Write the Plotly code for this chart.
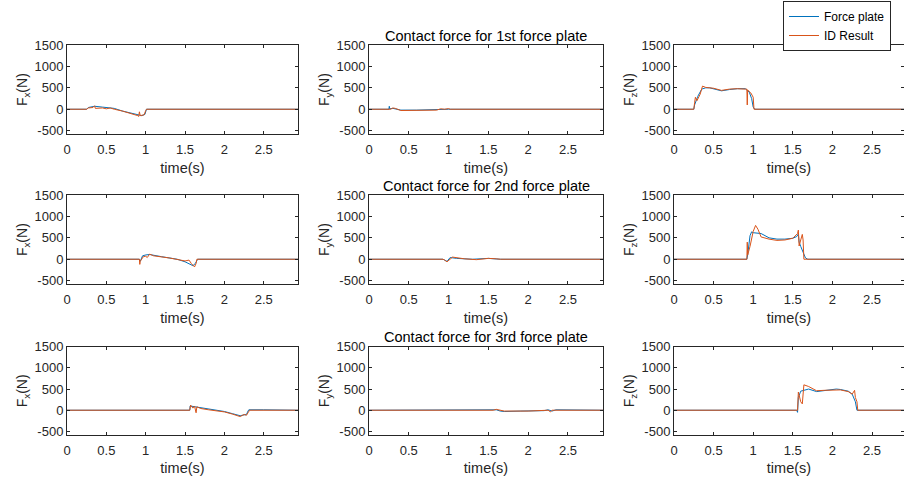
import plotly.graph_objects as go

# ---------------- data ----------------
# Plate 1
t_fp1_fx = [0, 0.25, 0.27, 0.35, 0.45, 0.6, 0.7, 0.8, 0.9, 0.95, 0.99, 1.0, 1.01, 2.94]
fp1_fx   = [0, 0, 40, 70, 50, 20, -40, -90, -140, -150, -120, -30, 0, 0]
t_id1_fx = [0, 0.25, 0.27, 0.33, 0.35, 0.36, 0.45, 0.5, 0.55, 0.6, 0.7, 0.8, 0.9, 0.91, 0.92, 0.93, 0.98, 1.0, 1.01, 2.94]
id1_fx   = [0, 0, 30, 40, 80, 20, 30, 10, 30, 0, -40, -90, -150, -170, -60, -150, -130, -30, 0, 0]

t_fp1_fy = [0, 0.25, 0.255, 0.26, 0.3, 0.35, 0.4, 0.6, 0.9, 0.95, 1.0, 2.94]
fp1_fy   = [0, 0, 70, 10, 20, 0, -20, -20, -15, 0, 0, 0]
t_id1_fy = [0, 0.27, 0.3, 0.33, 0.4, 0.6, 0.85, 0.9, 0.95, 1.0, 1.02, 2.94]
id1_fy   = [0, 0, 30, 20, -30, -25, -20, 10, 0, 15, 0, 0]

t_fp1_fz = [0, 0.25, 0.26, 0.30, 0.35, 0.4, 0.45, 0.5, 0.6, 0.7, 0.8, 0.9, 0.95, 0.98, 1.0, 1.02, 2.94]
fp1_fz   = [0, 0, 100, 300, 470, 500, 500, 480, 430, 460, 480, 480, 400, 250, 50, 0, 0]
t_id1_fz = [0, 0.25, 0.26, 0.27, 0.29, 0.33, 0.36, 0.4, 0.5, 0.6, 0.7, 0.8, 0.9, 0.92, 0.925, 0.93, 0.97, 1.0, 1.01, 2.94]
id1_fz   = [0, 0, 150, 280, 200, 350, 540, 510, 490, 440, 470, 480, 470, 470, 100, 450, 380, 280, 0, 0]

# Plate 2
t_fp2_fx = [0, 0.92, 0.93, 0.96, 1.0, 1.05, 1.2, 1.4, 1.5, 1.6, 1.63, 1.66, 2.94]
fp2_fx   = [0, 0, -50, 80, 100, 110, 60, 0, -60, -150, -100, 0, 0]
t_id2_fx = [0, 0.92, 0.925, 0.93, 0.97, 1.0, 1.02, 1.05, 1.1, 1.3, 1.5, 1.55, 1.58, 1.62, 1.64, 1.65, 2.94]
id2_fx   = [0, 0, -120, -50, 60, 70, 40, 120, 80, 30, -40, -20, -100, -180, -100, 0, 0]

t_fp2_fy = [0, 0.93, 0.98, 1.02, 1.1, 1.3, 1.5, 1.65, 2.94]
fp2_fy   = [0, 0, -50, 40, 20, 0, 20, 0, 0]
t_id2_fy = [0, 0.93, 0.95, 0.98, 1.05, 1.2, 1.35, 1.5, 1.6, 1.65, 2.94]
id2_fy   = [0, 0, -20, -60, 50, 10, -10, 20, 10, 0, 0]

t_fp2_fz = [0, 0.92, 0.93, 0.96, 0.98, 1.0, 1.1, 1.2, 1.3, 1.4, 1.5, 1.55, 1.57, 1.58, 1.6, 1.63, 1.66, 1.69, 2.94]
fp2_fz   = [0, 0, 100, 550, 640, 620, 600, 500, 470, 470, 490, 530, 590, 400, 300, 150, 30, 0, 0]
t_id2_fz = [0, 0.92, 0.925, 0.93, 0.96, 1.0, 1.03, 1.06, 1.1, 1.2, 1.3, 1.4, 1.5, 1.56, 1.57, 1.58, 1.6, 1.62, 1.63, 1.64, 2.94]
id2_fz   = [0, 0, 400, 100, 300, 650, 790, 700, 520, 470, 440, 450, 490, 600, 680, 310, 450, 580, 450, 0, 0]

# Plate 3
t_fp3_fx = [0, 1.56, 1.565, 1.6, 1.7, 1.8, 1.9, 2.0, 2.1, 2.2, 2.25, 2.28, 2.3, 2.31, 2.5, 2.94]
fp3_fx   = [0, 0, 100, 90, 60, 20, -10, -30, -80, -130, -110, -100, -20, 10, 10, 0]
t_id3_fx = [0, 1.56, 1.57, 1.6, 1.62, 1.64, 1.65, 1.7, 1.8, 1.9, 2.0, 2.1, 2.2, 2.25, 2.28, 2.3, 2.32, 2.94]
id3_fx   = [0, 0, 120, 50, 100, -60, 80, 40, 10, -10, -40, -90, -150, -100, -120, -60, 0, 0]

t_fp3_fy = [0, 1.56, 1.6, 1.65, 1.7, 1.9, 2.2, 2.25, 2.3, 2.35, 2.5, 2.94]
fp3_fy   = [0, 0, 10, -20, -30, -20, -10, 10, -20, 10, 5, 0]
t_id3_fy = [0, 1.56, 1.6, 1.7, 2.0, 2.25, 2.28, 2.3, 2.94]
id3_fy   = [0, 0, 20, -20, -20, 0, -40, 0, 0]

t_fp3_fz = [0, 1.55, 1.56, 1.57, 1.6, 1.65, 1.7, 1.8, 1.9, 2.0, 2.05, 2.1, 2.2, 2.25, 2.29, 2.31, 2.94]
fp3_fz   = [0, 0, -50, 300, 450, 480, 500, 440, 460, 490, 500, 490, 450, 380, 200, 0, 0]
t_id3_fz = [0, 1.56, 1.57, 1.6, 1.62, 1.64, 1.7, 1.8, 1.9, 2.0, 2.1, 2.2, 2.25, 2.28, 2.29, 2.31, 2.32, 2.94]
id3_fz   = [0, 0, 430, 200, 150, 600, 560, 460, 470, 470, 480, 440, 380, 470, 300, 200, 0, 0]

plate_titles = ["Contact force for 1st force plate",
                "Contact force for 2nd force plate",
                "Contact force for 3rd force plate"]
comp_labels = ["F<sub>x</sub>(N)", "F<sub>y</sub>(N)", "F<sub>z</sub>(N)"]
series_names = ["Force plate", "ID Result"]
xtick_vals = [0, 0.5, 1, 1.5, 2, 2.5]
xtick_text = ["0", "0.5", "1", "1.5", "2", "2.5"]
ytick_vals = [-500, 0, 500, 1000, 1500]
ytick_text = ["-500", "0", "500", "1000", "1500"]
x_label = "time(s)"

panels = [
    [(t_fp1_fx, fp1_fx, t_id1_fx, id1_fx), (t_fp1_fy, fp1_fy, t_id1_fy, id1_fy), (t_fp1_fz, fp1_fz, t_id1_fz, id1_fz)],
    [(t_fp2_fx, fp2_fx, t_id2_fx, id2_fx), (t_fp2_fy, fp2_fy, t_id2_fy, id2_fy), (t_fp2_fz, fp2_fz, t_id2_fz, id2_fz)],
    [(t_fp3_fx, fp3_fx, t_id3_fx, id3_fx), (t_fp3_fy, fp3_fy, t_id3_fy, id3_fy), (t_fp3_fz, fp3_fz, t_id3_fz, id3_fz)],
]

# ---------------- layout geometry ----------------
W, H = 904, 481
col_px = [(67, 298), (369, 603), (674, 904)]
col_xmax = [2.935, 2.94, 2.904]
row_px = [(45, 134.3), (195, 284.3), (346.7, 435)]
BLUE = "#0072BD"
ORANGE = "#D95319"
INK = "#262626"
FONT = "Liberation Sans, Arial, Helvetica, sans-serif"

fig = go.Figure()
layout = dict(
    width=W, height=H,
    margin=dict(l=0, r=0, t=0, b=0, autoexpand=False),
    paper_bgcolor="white", plot_bgcolor="white",
    font=dict(family=FONT, size=13, color=INK),
    showlegend=True,
    legend=dict(x=783 / W, y=1 - 1 / H, xanchor="left", yanchor="top",
                bordercolor=INK, borderwidth=1, bgcolor="white",
                font=dict(size=12, color="black"), tracegroupgap=0),
)
annotations = []

k = 0
for r in range(3):
    for c in range(3):
        k += 1
        xa = "x" if k == 1 else f"x{k}"
        ya = "y" if k == 1 else f"y{k}"
        t_fp, v_fp, t_id, v_id = panels[r][c]
        fig.add_trace(go.Scatter(x=t_fp, y=v_fp, mode="lines", name=series_names[0],
                                 line=dict(color=BLUE, width=1), xaxis=xa, yaxis=ya,
                                 showlegend=(k == 1), legendgroup="fp"))
        fig.add_trace(go.Scatter(x=t_id, y=v_id, mode="lines", name=series_names[1],
                                 line=dict(color=ORANGE, width=1), xaxis=xa, yaxis=ya,
                                 showlegend=(k == 1), legendgroup="id"))
        x0, x1 = col_px[c]
        y0, y1 = row_px[r]
        axcommon = dict(showline=True, linecolor=INK, linewidth=1, mirror="ticks",
                        ticks="inside", ticklen=3, tickcolor=INK, tickwidth=1,
                        showgrid=False, zeroline=False,
                        tickfont=dict(family=FONT, size=13, color=INK))
        layout["xaxis" if k == 1 else f"xaxis{k}"] = dict(
            domain=[x0 / W, x1 / W], anchor=ya, range=[0, col_xmax[c]],
            tickmode="array", tickvals=xtick_vals, ticktext=xtick_text,
            ticklabelstandoff=3,
            title=dict(text=x_label, font=dict(size=14.5, color=INK), standoff=6),
            **axcommon)
        layout["yaxis" if k == 1 else f"yaxis{k}"] = dict(
            domain=[1 - y1 / H, 1 - y0 / H], anchor=xa, range=[-585, 1500],
            tickmode="array", tickvals=ytick_vals, ticktext=ytick_text,
            title=dict(text=comp_labels[c], font=dict(size=14, color=INK), standoff=3),
            **axcommon)
    # row title above middle column
    annotations.append(dict(
        text=plate_titles[r], xref="paper", yref="paper",
        x=(col_px[1][0] + col_px[1][1]) / 2 / W, y=1 - (row_px[r][0] + 0.5) / H,
        xanchor="center", yanchor="bottom", showarrow=False,
        font=dict(size=14.5, color="black")))

layout["annotations"] = annotations
fig.update_layout(**layout)
fig.write_html("out.html", config={"displayModeBar": False},
               post_script="document.body.style.margin='0';document.body.style.overflow='hidden';")
